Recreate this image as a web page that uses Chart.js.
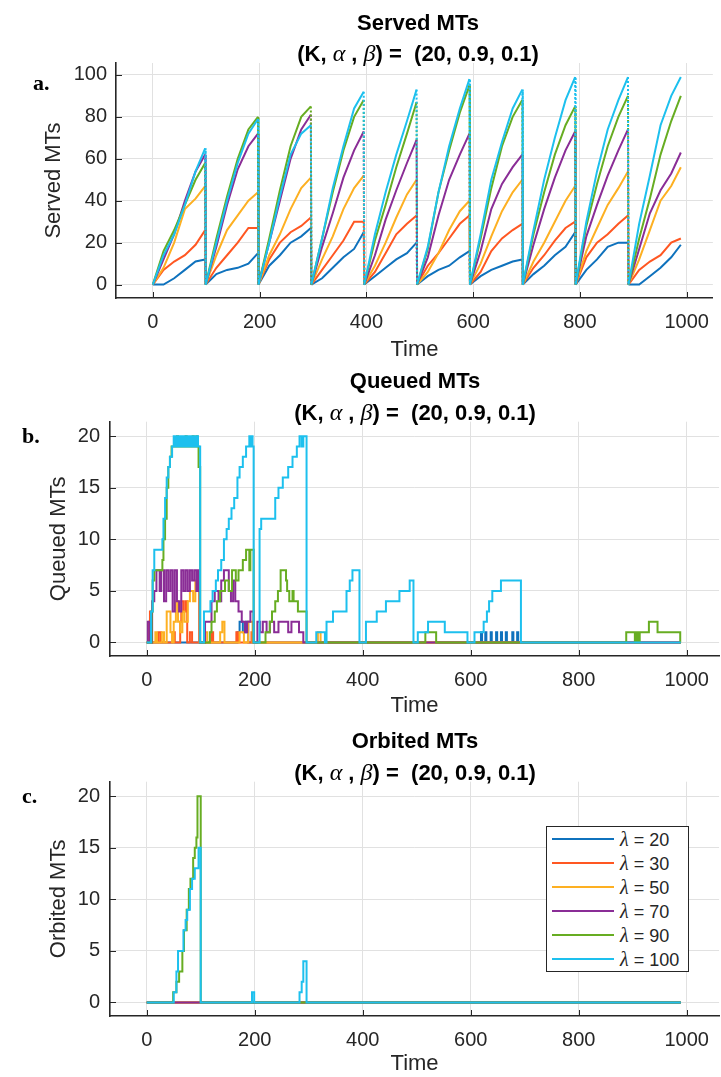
<!DOCTYPE html>
<html><head><meta charset="utf-8">
<script src="https://cdn.jsdelivr.net/npm/chart.js@4.4.1/dist/chart.umd.min.js"></script>
<style>
body{margin:0;background:#fff;}
#wrap{position:relative;width:721px;height:1077px;overflow:hidden;background:#fff;font-family:'Liberation Sans',Arial,sans-serif;color:#000}
canvas{position:absolute;left:0}
.ttl{position:absolute;text-align:center;font-weight:bold;font-size:22px;line-height:26px;white-space:pre;color:#000}
.gk{font-family:'Liberation Serif',serif;font-style:italic;font-weight:normal;font-size:24px}
.pl{position:absolute;font-family:'Liberation Serif',serif;font-weight:bold;font-size:22px;line-height:22px;color:#000}
#legend{position:absolute;left:546px;top:826px;width:143px;height:146px;box-sizing:border-box;border:1px solid #262626;background:#fff}
.li{position:absolute;left:0;height:24px;width:141px}
.ls{position:absolute;left:5px;width:62px;top:11px;height:2px}
.lt{position:absolute;left:73px;top:0;font-size:18px;line-height:24px;white-space:pre;color:#262626}
.lt i{font-family:'Liberation Serif',serif;font-size:20px}
</style></head>
<body>
<div id="wrap">
<canvas id="ca" width="721" height="372" style="top:0"></canvas>
<canvas id="cb" width="721" height="370" style="top:360px"></canvas>
<canvas id="cc" width="721" height="357" style="top:720px"></canvas>

<div class="ttl" style="left:116px;width:604px;top:9.5px">Served MTs</div>
<div class="ttl" style="left:116px;width:604px;top:39.5px">(K, <span class="gk">α</span> , <span class="gk">β</span>) =  (20, 0.9, 0.1)</div>
<div class="ttl" style="left:110px;width:610px;top:368px">Queued MTs</div>
<div class="ttl" style="left:110px;width:610px;top:399px">(K, <span class="gk">α</span> , <span class="gk">β</span>) =  (20, 0.9, 0.1)</div>
<div class="ttl" style="left:110px;width:610px;top:728px">Orbited MTs</div>
<div class="ttl" style="left:110px;width:610px;top:758.5px">(K, <span class="gk">α</span> , <span class="gk">β</span>) =  (20, 0.9, 0.1)</div>

<div class="pl" style="left:33px;top:72.3px">a.</div>
<div class="pl" style="left:22px;top:424.6px">b.</div>
<div class="pl" style="left:22px;top:784.6px">c.</div>
<div id="legend"></div>
</div>
<script>
// ---------------- DATA ----------------
const lambdas = [20, 30, 50, 70, 90, 100];
const timeTicks = [0, 200, 400, 600, 800, 1000];
const servedTicks = [0, 20, 40, 60, 80, 100];
const countTicks = [0, 5, 10, 15, 20];

// Served MTs: sample times and values
const servedTime = [0,20,40,60,80,98, 99,119,139,159,179,197, 198,218,238,258,278,296, 297,317,337,357,377,395, 396,416,436,456,476,494, 495,515,535,555,575,593, 594,614,634,654,674,692, 693,713,733,753,773,791, 792,812,832,852,872,890, 891,911,931,951,971,989];
const served20  = [0,0,3,7,11,12, 0,5,7,8,10,15, 0,9,14,20,23,27, 0,3,8,13,17,25, 0,4,8,12,15,20, 0,4,7,9,13,16, 0,4,7,9,11,12, 0,5,9,14,18,25, 0,7,12,18,20,20, 0,0,4,8,13,19];
const served30  = [0,7,11,14,19,26, 0,8,14,20,27,27, 0,12,20,25,28,32, 0,7,14,21,30,30, 0,6,15,24,29,33, 0,9,15,22,29,33, 0,6,16,22,26,29, 0,8,14,21,27,30, 0,13,20,24,29,33, 0,7,11,14,20,22];
const served50  = [0,8,20,36,41,47, 0,14,26,33,40,44, 0,14,24,36,46,51, 0,12,23,36,46,52, 0,9,20,32,43,50, 0,6,15,26,35,40, 0,10,23,35,44,50, 0,11,20,30,40,47, 0,16,27,38,46,54, 0,12,26,40,47,56];
const served70  = [0,12,24,40,54,62, 0,18,38,55,66,72, 0,20,40,60,74,81, 0,18,34,51,64,73, 0,14,31,45,58,69, 0,13,33,50,62,72, 0,16,36,48,56,62, 0,19,36,51,64,73, 0,23,38,52,64,74, 0,17,34,45,53,63];
const served90  = [0,16,26,38,50,58, 0,22,42,60,74,80, 0,22,45,66,80,85, 0,22,44,64,80,88, 0,21,38,56,72,87, 0,17,44,64,82,95, 0,22,46,66,80,88, 0,24,44,62,76,85, 0,28,48,66,80,90, 0,22,41,62,78,90];
const served100 = [0,14,24,38,54,65, 0,20,40,58,72,79, 0,20,42,62,72,76, 0,22,46,66,84,92, 0,24,44,62,78,93, 0,18,44,66,84,98, 0,24,50,68,84,93, 0,26,50,70,88,99, 0,30,54,74,88,99, 0,29,52,76,90,99];

// Queued MTs: [time, value] change points (value holds until next change)
const queued20 = [[0,0],[168,1],[172,2],[178,1],[184,2],[188,0],[619,1],[621,0],[627,1],[629,0],[637,1],[639,0],[647,1],[649,0],[656,1],[658,0],[665,1],[667,0],[677,1],[679,0],[686,1],[688,0],[989,0]];
const queued30 = [[0,0],[4,2],[6,3],[9,0],[22,1],[26,0],[48,1],[52,0],[62,2],[64,4],[68,3],[72,4],[75,0],[80,1],[84,0],[120,1],[123,0],[166,1],[169,0],[194,1],[197,0],[989,0]];
const queued50 = [[0,0],[6,1],[9,0],[16,1],[19,0],[28,1],[32,0],[37,3],[44,1],[47,0],[50,2],[54,4],[58,2],[62,1],[66,3],[70,2],[76,4],[80,5],[86,4],[90,6],[97,0],[108,1],[112,0],[136,1],[140,2],[144,0],[172,1],[180,0],[188,2],[196,0],[317,1],[322,0],[989,0]];
const queued70 = [[0,0],[2,2],[6,0],[10,4],[14,5],[18,7],[24,5],[27,7],[32,4],[36,7],[40,5],[44,7],[48,3],[52,7],[56,4],[60,3],[64,7],[68,5],[72,7],[76,5],[80,7],[84,6],[88,7],[92,5],[95,7],[98,0],[108,2],[120,4],[126,5],[133,4],[138,6],[143,7],[152,5],[156,4],[160,6],[164,4],[170,3],[176,2],[182,1],[186,2],[192,3],[198,0],[205,2],[210,1],[215,2],[222,1],[228,2],[236,1],[244,2],[262,1],[268,2],[282,1],[290,0],[989,0]];
const queued90 = [[0,0],[9,3],[11,6],[14,7],[29,8],[31,10],[34,12],[37,15],[40,17],[43,18],[46,19],[56,20],[58,19],[72,20],[74,19],[85,20],[87,19],[92,20],[94,19],[96,17],[99,0],[117,1],[120,2],[126,3],[130,4],[136,5],[145,6],[152,5],[158,7],[165,6],[170,7],[178,8],[184,9],[190,7],[192,9],[198,0],[220,1],[228,2],[232,3],[238,4],[243,5],[248,7],[258,6],[260,5],[264,4],[270,5],[272,4],[280,3],[296,0],[516,1],[536,0],[888,1],[904,0],[907,1],[910,0],[913,1],[930,2],[946,1],[988,0],[989,0]];
const queued100 = [[0,0],[8,3],[11,7],[14,9],[29,10],[31,12],[34,14],[37,16],[40,17],[43,18],[47,19],[50,20],[52,19],[54,20],[57,19],[59,20],[62,19],[64,20],[66,19],[69,20],[71,19],[73,20],[76,19],[78,20],[80,19],[83,20],[85,19],[88,20],[90,19],[93,20],[95,19],[99,0],[106,3],[118,4],[122,5],[128,6],[132,7],[138,8],[143,10],[148,11],[152,12],[157,13],[162,14],[168,16],[172,17],[178,18],[184,19],[190,20],[192,19],[194,20],[196,19],[198,0],[209,11],[212,12],[238,14],[244,15],[252,16],[262,17],[270,18],[278,19],[283,20],[287,19],[290,20],[296,0],[314,1],[330,0],[333,2],[345,3],[370,5],[376,6],[381,7],[394,0],[406,2],[426,3],[443,4],[468,5],[487,6],[494,0],[502,1],[521,2],[552,1],[594,0],[607,1],[624,2],[630,3],[634,4],[640,5],[656,6],[693,0],[989,0]];

// Orbited MTs: [time, value] change points
const orbit20 = [[0,0],[989,0]];
const orbit30 = [[0,0],[989,0]];
const orbit50 = [[0,0],[989,0]];
const orbit70 = [[0,0],[989,0]];
const orbit90 = [[0,0],[49,1],[55,2],[60,3],[66,5],[69,7],[74,9],[78,11],[81,12],[86,14],[89,15],[92,16],[94,20],[100,0],[989,0]];
const orbit100 = [[0,0],[50,1],[55,3],[58,5],[68,7],[72,8],[75,9],[80,11],[84,12],[89,13],[96,15],[100,0],[195,1],[199,0],[283,1],[287,2],[290,4],[296,0],[989,0]];

// ---------------- STYLE ----------------
const lineColors = ['#0F72BD', '#FF5722', '#FDB022', '#8A2D96', '#67AD22', '#1DC0EE'];
const TXT = '#262626';
const GRID = '#e1e1e1';
const tickFont = {family: "'Liberation Sans', Arial, sans-serif", size: 20};
const axTitleFont = {family: "'Liberation Sans', Arial, sans-serif", size: 22};

const insideTicks = {
  id: 'insideTicks',
  afterDraw(chart) {
    const {ctx, chartArea: a, scales: {x, y}} = chart;
    ctx.save();
    ctx.strokeStyle = TXT; ctx.lineWidth = 1; ctx.beginPath();
    x.ticks.forEach(t => { const p = Math.round(x.getPixelForValue(t.value)) + 0.5; ctx.moveTo(p, a.bottom); ctx.lineTo(p, a.bottom - 6); });
    y.ticks.forEach(t => { const p = Math.round(y.getPixelForValue(t.value)) + 0.5; ctx.moveTo(a.left, p); ctx.lineTo(a.left + 6, p); });
    ctx.stroke(); ctx.restore();
  }
};

function makeChart(id, p) {
  const datasets = p.series.map((d, i) => {
    const ds = {
      label: 'λ = ' + lambdas[i],
      data: d,
      borderColor: lineColors[i], backgroundColor: lineColors[i],
      borderWidth: 2, pointRadius: 0, pointHoverRadius: 0, fill: false, tension: 0,
      stepped: p.stepped ? 'before' : false,
      order: p.series.length - 1 - i
    };
    if (p.dashDrops) ds.segment = {borderDash: c => (c.p1.parsed.y < c.p0.parsed.y - 3 ? [2, 2] : undefined)};
    return ds;
  });
  return new Chart(document.getElementById(id), {
    type: 'line',
    data: {datasets},
    options: {
      responsive: false, animation: false, devicePixelRatio: 1,
      layout: {padding: {top: p.padTop, right: 1, left: 0, bottom: 0}},
      plugins: {legend: {display: false}, tooltip: {enabled: false}, title: {display: false}},
      scales: {
        x: {
          type: 'linear', min: p.xMin, max: p.xMax,
          afterBuildTicks: s => { s.ticks = timeTicks.map(v => ({value: v})); },
          afterFit: s => { s.height = p.xH; },
          ticks: {font: tickFont, color: TXT, padding: 12, maxRotation: 0, autoSkip: false, callback: v => String(v)},
          grid: {color: GRID, lineWidth: 1, drawTicks: false},
          border: {color: TXT, width: 1.6},
          title: {display: true, text: 'Time', font: axTitleFont, color: TXT, padding: {top: 0, bottom: p.xTitlePad}}
        },
        y: {
          type: 'linear', min: p.yMin, max: p.yMax,
          afterBuildTicks: s => { s.ticks = p.yTicks.map(v => ({value: v})); },
          afterFit: s => { s.width = p.yW; },
          ticks: {font: tickFont, color: TXT, padding: p.yTickPad, autoSkip: false, callback: v => String(v)},
          grid: {color: GRID, lineWidth: 1, drawTicks: false},
          border: {color: TXT, width: 1.6},
          title: {display: true, text: p.yTitle, font: axTitleFont, color: TXT, padding: {top: p.yTitlePad, bottom: 0}}
        }
      }
    },
    plugins: [insideTicks]
  });
}

const toXY = arr => arr.map(([x, y]) => ({x, y}));
const servedSeries = [served20, served30, served50, served70, served90, served100]
  .map(s => s.map((v, i) => ({x: servedTime[i], y: v})));

makeChart('ca', {
  series: servedSeries, stepped: false, dashDrops: true,
  padTop: 63, xH: 74, xTitlePad: 8.8, xMin: -69, xMax: 1049,
  yMin: -6.4, yMax: 105.7, yTicks: servedTicks, yW: 116, yTickPad: 9, yTitle: 'Served MTs', yTitlePad: 41
});
makeChart('cb', {
  series: [queued20, queued30, queued50, queued70, queued90, queued100].map(toXY), stepped: true, dashDrops: false,
  padTop: 61.7, xH: 74, xTitlePad: 10.8, xMin: -68, xMax: 1060,
  yMin: -1.31, yMax: 21.4, yTicks: countTicks, yW: 110, yTickPad: 10, yTitle: 'Queued MTs', yTitlePad: 46
});
const chartC = makeChart('cc', {
  series: [orbit20, orbit30, orbit50, orbit70, orbit90, orbit100].map(toXY), stepped: true, dashDrops: false,
  padTop: 61.7, xH: 61, xTitlePad: 0, xMin: -68, xMax: 1060,
  yMin: -1.31, yMax: 21.4, yTicks: countTicks, yW: 110, yTickPad: 10, yTitle: 'Orbited MTs', yTitlePad: 46
});

// legend built from chart C datasets
const lg = document.getElementById('legend');
chartC.data.datasets.forEach((ds, i) => {
  const row = document.createElement('div');
  row.className = 'li';
  row.style.top = (0.3 + i * 23.9) + 'px';
  const sw = document.createElement('div');
  sw.className = 'ls'; sw.style.background = ds.borderColor;
  const tx = document.createElement('div');
  tx.className = 'lt';
  const parts = ds.label.split(' ');
  const gi = document.createElement('i'); gi.textContent = parts[0];
  tx.appendChild(gi);
  tx.appendChild(document.createTextNode(' ' + parts.slice(1).join(' ')));
  row.appendChild(sw); row.appendChild(tx);
  lg.appendChild(row);
});
</script>
</body></html>
